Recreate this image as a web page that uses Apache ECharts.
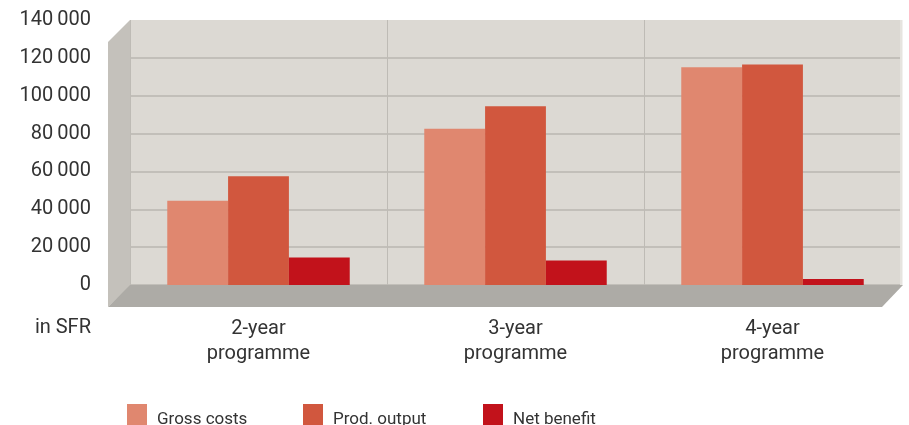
<!DOCTYPE html>
<html>
<head>
<meta charset="utf-8">
<script src="https://cdn.jsdelivr.net/npm/echarts@6/dist/echarts.min.js"></script>
<style>
html,body{margin:0;padding:0;background:#fff;}
#chart{width:909px;height:425px;}
</style>
</head>
<body>
<div id="chart"></div>
<script>
const categories = ['2-year\nprogramme', '3-year\nprogramme', '4-year\nprogramme'];
const grossCosts = [44500, 82500, 115000];
const prodOutput = [57500, 94500, 116500];
const netBenefit = [14500, 13000, 3200];
const seriesNames = ['Gross costs', 'Prod. output', 'Net benefit'];
const seriesColors = ['#e0876f', '#d1573e', '#c2121b'];
const yMax = 140000, yStep = 20000;

const FONT = 'Roboto';
const TXT = '#333333';

const chart = echarts.init(document.getElementById('chart'), null, {renderer: 'canvas'});

function fmt(v) {
  return String(v).replace(/\B(?=(\d{3})+(?!\d))/g, '\u2009');
}

const legendLefts = [127, 303, 483];

const option = {
  animation: false,
  textStyle: {fontFamily: FONT},
  grid: {
    left: 130, right: 8, top: 20, bottom: 140,
    show: true, backgroundColor: '#dcd9d3', borderWidth: 0
  },
  legend: seriesNames.map((n, i) => ({
    data: [n],
    left: legendLefts[i], top: 404, padding: 0,
    itemWidth: 20, itemHeight: 21, itemGap: 10,
    icon: 'rect',
    formatter: name => '{t|' + name + '}',
    textStyle: {
      fontFamily: FONT, fontSize: 17, color: TXT,
      rich: {t: {fontFamily: FONT, fontSize: 17, color: TXT, padding: [10, 0, 0, 5]}}
    }
  })),
  xAxis: {
    type: 'category',
    data: categories,
    axisLine: {show: false},
    axisTick: {show: false},
    splitLine: {show: true, interval: 0, lineStyle: {color: '#bebbb5', width: 1}},
    axisLabel: {
      fontFamily: FONT, fontSize: 20, color: TXT,
      lineHeight: 25, margin: 31, interval: 0
    }
  },
  yAxis: {
    type: 'value',
    min: 0, max: yMax, interval: yStep,
    axisLine: {show: false},
    axisTick: {show: false},
    splitLine: {show: true, showMaxLine: false, lineStyle: {color: '#c2bfb9', width: 2}},
    axisLabel: {
      fontFamily: FONT, fontSize: 20, color: TXT, margin: 39,
      formatter: fmt
    }
  },
  graphic: [
    {
      type: 'polygon', z: 1, silent: true,
      shape: {points: [[108, 42], [130, 20], [130, 286], [108, 307]]},
      style: {fill: '#c4c1bb'}
    },
    {
      type: 'polygon', z: 1, silent: true,
      shape: {points: [[130, 285], [903, 285], [882, 307], [108, 307]]},
      style: {fill: '#adaba6'}
    },
    {
      type: 'rect', z: 1, silent: true,
      shape: {x: 900, y: 20, width: 2.5, height: 265},
      style: {fill: '#e6e4df'}
    },
    {
      type: 'text', z: 1, silent: true,
      x: 91, y: 328,
      style: {text: 'in SFR', fontFamily: FONT, fontSize: 20, fill: TXT, align: 'right', verticalAlign: 'middle'}
    }
  ],
  series: [grossCosts, prodOutput, netBenefit].map((d, i) => ({
    name: seriesNames[i],
    type: 'bar',
    data: d,
    barGap: '0%',
    barCategoryGap: '29%',
    itemStyle: {color: seriesColors[i]},
    z: 2
  }))
};
chart.setOption(option);
</script>
</body>
</html>
